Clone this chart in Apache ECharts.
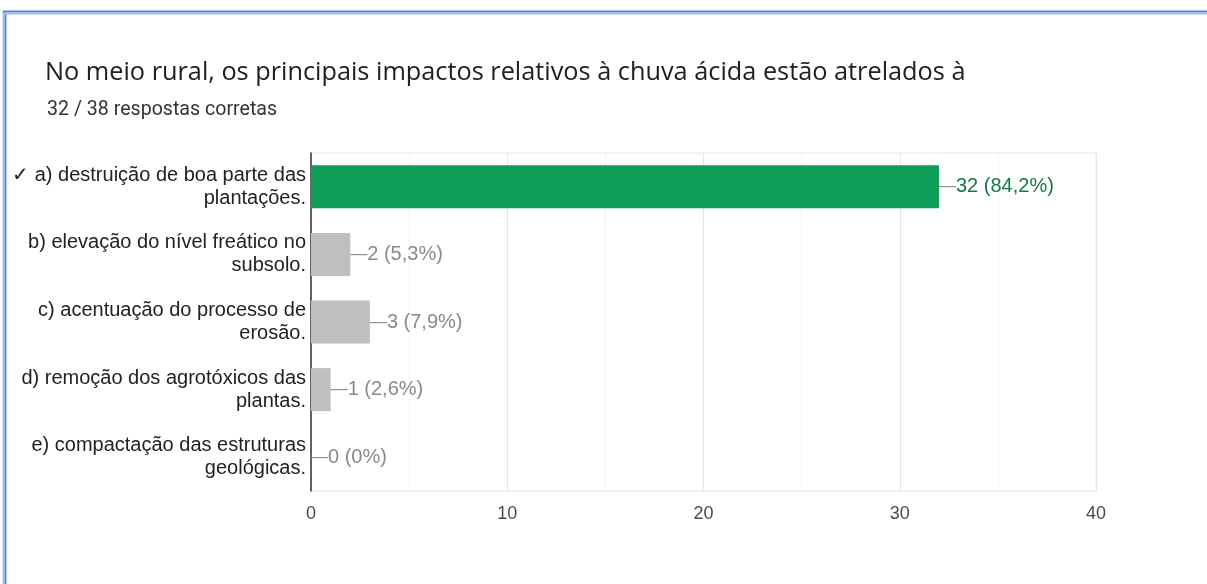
<!DOCTYPE html>
<html>
<head>
<meta charset="utf-8">
<script src="https://cdn.jsdelivr.net/npm/echarts@6/dist/echarts.min.js"></script>
<style>
  html, body { margin: 0; padding: 0; background: #fff; }
  #chart { width: 1207px; height: 584px; }
</style>
</head>
<body>
<div id="chart"></div>
<script>
// Question and answer tally
const titleText = 'No meio rural, os principais impactos relativos à chuva ácida estão atrelados à';
const subtitleText = '32 / 38 respostas corretas';

const categories = [
  '✓ a) destruição de boa parte das\nplantações.',
  'b) elevação do nível freático no\nsubsolo.',
  'c) acentuação do processo de\nerosão.',
  'd) remoção dos agrotóxicos das\nplantas.',
  'e) compactação das estruturas\ngeológicas.'
];
const counts = [32, 2, 3, 1, 0];
const percents = ['84,2%', '5,3%', '7,9%', '2,6%', '0%'];
const correctIndex = 0;
const xTicks = [0, 10, 20, 30, 40];

const GREEN = '#0f9d58';
const GREEN_TEXT = '#137a45';
const GREY_BAR = '#bfbfbf';
const GREY_TEXT = '#8a8a8a';

const chart = echarts.init(document.getElementById('chart'), null, { renderer: 'canvas' });

const barData = counts.map((v, i) => ({
  value: v,
  itemStyle: { color: i === correctIndex ? GREEN : GREY_BAR },
  label: {
    rich: {
      dash: { color: '#8a8a8a', fontSize: 17, fontFamily: 'Liberation Sans, Arial, sans-serif' },
      val: {
        color: i === correctIndex ? GREEN_TEXT : GREY_TEXT,
        fontSize: 20,
        fontFamily: 'Liberation Sans, Arial, sans-serif'
      }
    }
  }
}));

chart.setOption({
  animation: false,
  backgroundColor: '#ffffff',
  title: [
    {
      text: titleText,
      left: 40, top: 55,
      textStyle: { fontFamily: '"Open Sans", sans-serif', fontSize: 25.3, fontWeight: 'normal', color: '#202124' }
    },
    {
      text: subtitleText,
      left: 42, top: 95,
      textStyle: { fontFamily: 'Roboto, sans-serif', fontSize: 19.6, fontWeight: 'normal', color: '#333333' }
    }
  ],
  graphic: [
    // frame edges
    { type: 'line', shape: { x1: 3.5, y1: 11, x2: 3.5, y2: 584 }, style: { stroke: '#a9bde6', lineWidth: 2 } },
    { type: 'line', shape: { x1: 5.5, y1: 11, x2: 5.5, y2: 584 }, style: { stroke: '#5a8ae0', lineWidth: 2 } },
    { type: 'line', shape: { x1: 3, y1: 11.5, x2: 1207, y2: 11.5 }, style: { stroke: '#4f7fd8', lineWidth: 2 } },
    { type: 'line', shape: { x1: 3, y1: 13.5, x2: 1207, y2: 13.5 }, style: { stroke: '#a9bde6', lineWidth: 2 } }
  ],
  grid: {
    left: 311, right: 111, top: 153, bottom: 93,
    show: true, borderColor: '#e4e4e4', borderWidth: 1, backgroundColor: 'transparent'
  },
  xAxis: {
    type: 'value',
    min: xTicks[0],
    max: xTicks[xTicks.length - 1],
    interval: 10,
    axisLine: { show: false },
    axisTick: { show: false },
    axisLabel: {
      color: '#4a4a4a', fontSize: 18, margin: 14,
      fontFamily: 'Liberation Sans, Arial, sans-serif'
    },
    splitLine: { show: true, lineStyle: { color: '#e6e6e6', width: 1 } },
    minorTick: { show: false, splitNumber: 2 },
    minorSplitLine: { show: true, lineStyle: { color: '#f3f3f3', width: 1 } }
  },
  yAxis: {
    type: 'category',
    data: categories,
    inverse: true,
    axisLine: { show: true, lineStyle: { color: '#333333', width: 1.5 } },
    axisTick: { show: false },
    axisLabel: {
      color: '#222222', fontSize: 20, lineHeight: 23, margin: 5, align: 'right',
      fontFamily: 'Liberation Sans, Arial, sans-serif'
    },
    splitLine: { show: false }
  },
  series: [{
    type: 'bar',
    data: barData,
    barWidth: 43,
    label: {
      show: true,
      position: 'right',
      distance: 0,
      formatter: p => '{dash|—}{val|' + counts[p.dataIndex] + ' (' + percents[p.dataIndex] + ')}'
    }
  }]
});
</script>
</body>
</html>
